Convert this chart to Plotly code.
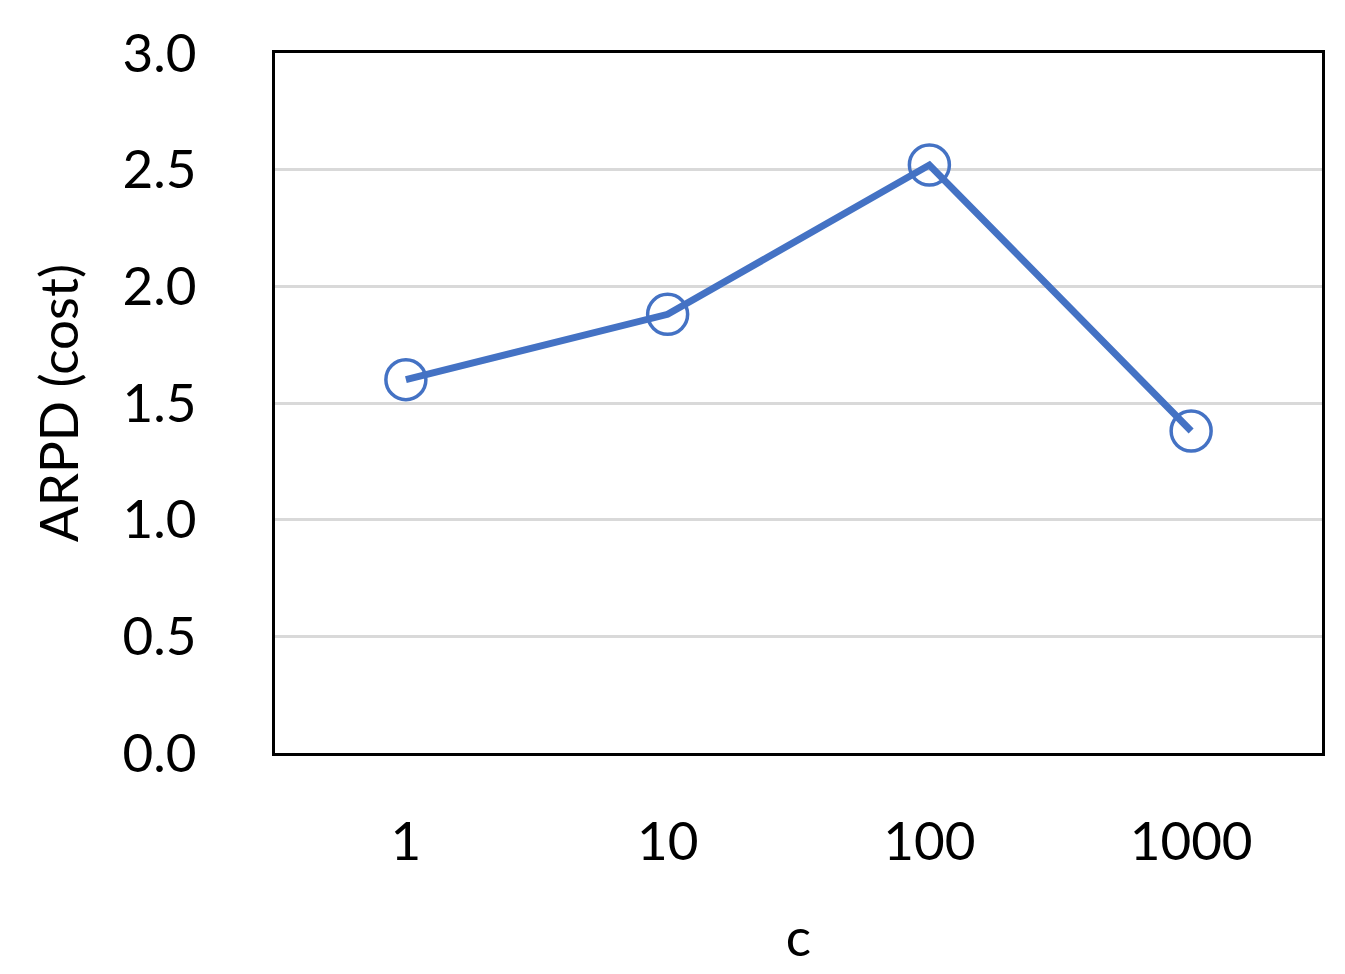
import plotly.graph_objects as go

categories = ["1", "10", "100", "1000"]
arpd_values = [1.60, 1.88, 2.52, 1.38]
y_ticks = [0.0, 0.5, 1.0, 1.5, 2.0, 2.5, 3.0]

fig = go.Figure()
fig.add_trace(go.Scatter(
    x=categories, y=arpd_values, mode="lines+markers",
    line=dict(color="#4472C4", width=7),
    marker=dict(symbol="circle-open", size=40, color="#4472C4", line=dict(width=3.5, color="#4472C4")),
    showlegend=False,
))

font_family = "Lato, Open Sans, sans-serif"
fig.update_layout(
    width=1345, height=974,
    margin=dict(l=267, r=31, t=42, b=229),
    plot_bgcolor="white", paper_bgcolor="white",
    font=dict(family=font_family, color="black", size=53),
)
fig.update_xaxes(
    type="category", range=[-0.5, 3.5],
    showline=True, linecolor="black", linewidth=3, mirror=True,
    showgrid=False, ticks="", ticklabelstandoff=40,
    tickfont=dict(size=53, family=font_family),
    title=dict(text="c", font=dict(size=53, family=font_family), standoff=50),
)
fig.update_yaxes(
    range=[0, 3.0], tickvals=y_ticks, ticktext=[f"{v:.1f}" for v in y_ticks],
    showline=True, linecolor="black", linewidth=3, mirror=True,
    showgrid=True, gridcolor="#d9d9d9", gridwidth=3, zeroline=False,
    ticks="", ticklabelstandoff=65,
    tickfont=dict(size=53, family=font_family),
    title=dict(text="ARPD (cost)", font=dict(size=53, family=font_family), standoff=27),
)

fig.write_html("out.html")
